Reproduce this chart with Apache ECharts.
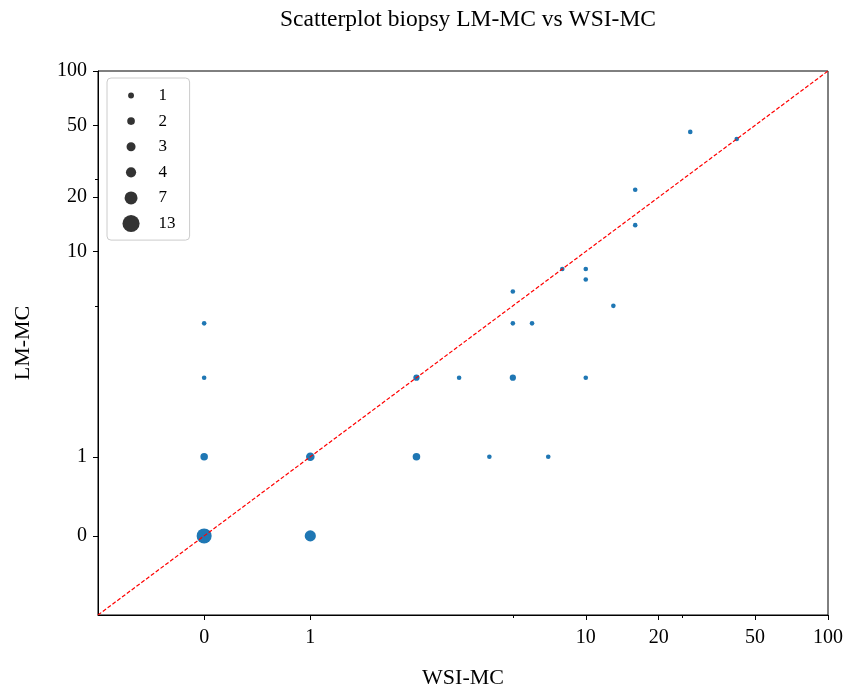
<!DOCTYPE html>
<html>
<head>
<meta charset="utf-8">
<script src="https://cdn.jsdelivr.net/npm/echarts@6/dist/echarts.min.js"></script>
<style>
  html, body { margin: 0; padding: 0; background: #fff; }
  #chart { width: 846px; height: 684px; }
</style>
</head>
<body>
<div id="chart"></div>
<script>
// one entry per (WSI-MC, LM-MC) pair, nCases = how many biopsies share it
const wsiMC  = [0, 1, 0, 1, 2, 4, 7, 0, 2, 3, 5, 10, 0, 5, 6, 5, 13, 10, 10, 8, 16, 16, 27, 42];
const lmMC   = [0, 0, 1, 1, 1, 1, 1, 2, 2, 2, 2, 2, 4, 4, 4, 6, 5, 7, 8, 8, 14, 22, 46, 42];
const nCases = [13, 7, 3, 4, 3, 1, 1, 1, 2, 1, 2, 1, 1, 1, 1, 1, 1, 1, 1, 1, 1, 1, 1, 1];

const tickValues = [0, 1, 10, 20, 50, 100];
const minorTickValues = [5, 25];
const legendCounts = [1, 2, 3, 4, 7, 13];

// symlog-like scale: linear up to LIN, log10 above it
const LIN = 2;
const DEC = 2.282;
function symlog(v) {
  return v <= LIN ? v : LIN + DEC * Math.log10(v / LIN);
}
const AX_MIN = -1;
const AX_MAX = symlog(100);

const FONT = 'Liberation Serif';
const dotSize = c => 4.0 * Math.sqrt(c) + 0.6;
const legendDot = c => 4.3 * Math.sqrt(c) + 1.6;

function tickLabel(val) {
  const t = tickValues.find(t => Math.abs(symlog(t) - val) < 1e-6);
  return t === undefined ? '' : String(t);
}

const points = wsiMC.map((x, i) => ({
  value: [symlog(x), symlog(lmMC[i])],
  symbolSize: dotSize(nCases[i])
}));

// legend built from rich text: spacer / dot / spacer / label
const maxD = legendDot(legendCounts[legendCounts.length - 1]);
const rich = { t: { fontFamily: FONT, fontSize: 17, lineHeight: 20, color: '#000' } };
legendCounts.forEach(c => {
  const d = legendDot(c);
  rich['a' + c] = { width: (maxD - d) / 2, height: 1 };
  rich['c' + c] = { width: d, height: d, borderRadius: d / 2, backgroundColor: '#333333' };
  rich['b' + c] = { width: (maxD - d) / 2 + 19, height: 1 };
});

const baseAxis = {
  type: 'value',
  min: AX_MIN,
  max: AX_MAX,
  splitLine: { show: false },
  axisLine: { show: true, onZero: false, lineStyle: { color: '#000', width: 1 } }
};
const minorAxis = {
  axisLine: { show: false, onZero: false },
  axisLabel: { show: false },
  axisTick: { show: true, length: 3, lineStyle: { color: '#000' }, customValues: minorTickValues.map(symlog) }
};

const chart = echarts.init(document.getElementById('chart'));
chart.setOption({
  animation: false,
  backgroundColor: '#fff',
  title: {
    text: 'Scatterplot biopsy LM-MC vs WSI-MC',
    left: 463,
    textAlign: 'center',
    top: 3,
    textStyle: { fontFamily: FONT, fontSize: 23.5, fontWeight: 'normal', color: '#000' }
  },
  grid: {
    left: 98, right: 18, top: 71, bottom: 69,
    outerBoundsMode: 'none',
    show: true, borderColor: '#000', borderWidth: 1
  },
  legend: {
    left: 107,
    top: 78,
    orient: 'vertical',
    icon: 'none',
    itemWidth: 0,
    itemHeight: 0,
    itemGap: 8.6,
    padding: [9, 14, 8, 10.5],
    selectedMode: false,
    backgroundColor: 'rgba(255,255,255,0.8)',
    borderColor: '#cccccc',
    borderWidth: 1,
    borderRadius: 4,
    data: legendCounts.map(String),
    formatter: name => `{a${name}|}{c${name}|}{b${name}|}{t|${name}}`,
    textStyle: { fontFamily: FONT, fontSize: 17, color: '#000', rich: rich }
  },
  xAxis: [
    Object.assign({}, baseAxis, {
      name: 'WSI-MC',
      nameLocation: 'middle',
      nameGap: 52,
      nameTextStyle: { fontFamily: FONT, fontSize: 22, color: '#000' },
      axisTick: { show: true, length: 5, lineStyle: { color: '#000' }, customValues: tickValues.map(symlog) },
      axisLabel: { fontFamily: FONT, fontSize: 20, color: '#000', margin: 13,
        customValues: tickValues.map(symlog), formatter: tickLabel }
    }),
    Object.assign({}, baseAxis, { position: 'bottom' }, minorAxis)
  ],
  yAxis: [
    Object.assign({}, baseAxis, {
      name: 'LM-MC',
      nameLocation: 'middle',
      nameGap: 64,
      nameTextStyle: { fontFamily: FONT, fontSize: 22, color: '#000' },
      axisTick: { show: true, length: 5, lineStyle: { color: '#000' }, customValues: tickValues.map(symlog) },
      axisLabel: { fontFamily: FONT, fontSize: 20, color: '#000', margin: 11,
        customValues: tickValues.map(symlog), formatter: tickLabel }
    }),
    Object.assign({}, baseAxis, { position: 'left' }, minorAxis)
  ],
  series: [
    {
      name: 'biopsies',
      type: 'scatter',
      data: points,
      itemStyle: { color: '#1f77b4', opacity: 1 },
      z: 3
    },
    {
      name: 'diagonal',
      type: 'line',
      data: [[AX_MIN, AX_MIN], [AX_MAX, AX_MAX]],
      symbol: 'none',
      lineStyle: { color: '#ff0000', width: 1.2, type: [4, 2] },
      z: 5,
      silent: true
    }
  ].concat(legendCounts.map(c => ({
    name: String(c),
    type: 'scatter',
    data: []
  })))
});
</script>
</body>
</html>
